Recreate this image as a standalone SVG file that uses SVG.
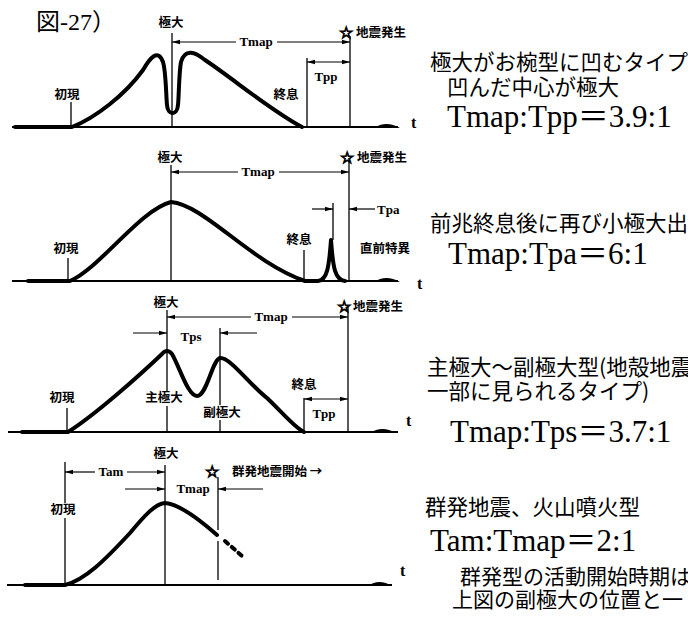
<svg xmlns="http://www.w3.org/2000/svg" width="688" height="620" viewBox="0 0 688 620">
<style>
.curve{fill:none;stroke:#000;stroke-width:4;stroke-linecap:round;stroke-linejoin:round}
.base{stroke:#000;stroke-width:2;fill:none}
.vl{stroke:#000;stroke-width:1.3;fill:none}
.dim{stroke:#000;stroke-width:1.2;fill:none}
.blob{fill:#000}
.lbl{font-family:"Noto Sans CJK JP","Noto Sans CJK SC",sans-serif;font-weight:700;font-size:12.5px;fill:#000}
.star{font-family:"DejaVu Sans","Noto Sans CJK JP",sans-serif;font-size:16px;fill:#000;stroke:#000;stroke-width:1.1}
.tl{font-family:"Liberation Serif","Noto Sans CJK JP",serif;font-weight:700;font-size:13px;fill:#000}
.tt{font-family:"Liberation Serif",serif;font-weight:700;font-size:16px;fill:#000}
.jp{font-family:"Noto Sans CJK JP","Noto Sans CJK SC",sans-serif;font-size:21.5px;fill:#000}
.ratio{font-family:"Liberation Serif","Noto Sans CJK JP",serif;font-size:31px;fill:#000}
.title{font-family:"Liberation Serif","Noto Sans CJK JP",serif;font-size:24px;fill:#000}
</style>
<defs>
<marker id="ah" viewBox="0 0 8 6" refX="8" refY="3" markerWidth="8" markerHeight="6" markerUnits="userSpaceOnUse" orient="auto-start-reverse"><path d="M0,0.8 L8,3 L0,5.2z" fill="#000"/></marker>
</defs>
<rect width="688" height="620" fill="#fff"/>
<text class="title" x="36" y="30">図-27）</text>

<!-- Panel 1 -->
<g id="panel1">
<line class="base" x1="12" y1="127" x2="398" y2="127"/>
<path class="blob" d="M374,128 Q386,120 400,128 z"/>
<line class="vl" x1="172" y1="33" x2="172" y2="127"/>
<line class="vl" x1="71" y1="102" x2="71" y2="127"/>
<line class="vl" x1="307" y1="58" x2="307" y2="127"/>
<line class="vl" x1="350" y1="36" x2="350" y2="127"/>
<path class="curve" d="M15,127 L72,127 C95,118 125,95 143,70 C150,58 158,48 163,62 C166,72 166,95 167,105 C168,116 177,116 178,105 C179,95 179,72 181,62 C185,48 195,52 205,60 C235,80 270,110 302,127"/>
<text class="lbl" x="171" y="27" text-anchor="middle">極大</text>
<text class="lbl" x="67" y="99" text-anchor="middle">初現</text>
<text class="lbl" x="286" y="99" text-anchor="middle">終息</text>
<text class="star" x="339" y="38">☆</text>
<text class="lbl" x="356" y="37">地震発生</text>
<text class="tl" x="256" y="46" text-anchor="middle">Tmap</text>
<text class="tl" x="326" y="81" text-anchor="middle">Tpp</text>
<text class="tt" x="411" y="128">t</text>
<text class="jp" x="430" y="70">極大がお椀型に凹むタイプ</text>
<text class="jp" x="447" y="95">凹んだ中心が極大</text>
<text class="ratio" x="447" y="127">Tmap:Tpp＝3.9:1</text>
</g>

<!-- Panel 2 -->
<g id="panel2">
<line class="base" x1="12" y1="281" x2="398" y2="281"/>
<path class="blob" d="M374,282 Q386,274 400,282 z"/>
<line class="vl" x1="171" y1="165" x2="171" y2="281"/>
<line class="vl" x1="68" y1="258" x2="68" y2="281"/>
<line class="vl" x1="304" y1="250" x2="304" y2="281"/>
<line class="vl" x1="333" y1="203" x2="333" y2="240"/>
<line class="vl" x1="349" y1="158" x2="349" y2="281"/>
<path class="curve" d="M28,281 L70,281 C100,268 140,210 171,202 C205,205 250,262 305,281 L318,281 C327,280 329,268 331,240 C333,268 335,280 345,281"/>
<text class="lbl" x="170" y="162" text-anchor="middle">極大</text>
<text class="lbl" x="66" y="253" text-anchor="middle">初現</text>
<text class="lbl" x="299" y="244" text-anchor="middle">終息</text>
<text class="star" x="340" y="163">☆</text>
<text class="lbl" x="357" y="162">地震発生</text>
<text class="lbl" x="360" y="253">直前特異</text>
<text class="tl" x="258" y="176" text-anchor="middle">Tmap</text>
<text class="tl" x="377" y="214">Tpa</text>
<text class="tt" x="417" y="289">t</text>
<text class="jp" x="430" y="231">前兆終息後に再び小極大出</text>
<text class="ratio" x="448" y="264">Tmap:Tpa＝6:1</text>
</g>

<!-- Panel 3 -->
<g id="panel3">
<line class="base" x1="8" y1="432" x2="398" y2="432"/>
<path class="blob" d="M370,433 Q382,425 396,433 z"/>
<line class="vl" x1="167" y1="310" x2="167" y2="391"/>
<line class="vl" x1="167" y1="406" x2="167" y2="432"/>
<line class="vl" x1="220" y1="328" x2="220" y2="405"/>
<line class="vl" x1="220" y1="420" x2="220" y2="432"/>
<line class="vl" x1="67" y1="408" x2="67" y2="432"/>
<line class="vl" x1="304" y1="398" x2="304" y2="432"/>
<line class="vl" x1="348" y1="306" x2="348" y2="432"/>
<path class="curve" d="M22,432 L68,432 C95,415 140,375 162,354 Q167,348 172,354 C180,368 188,396 197,396 C207,396 212,360 220,358 C230,357 250,385 267,398 C282,412 295,428 304,432"/>
<text class="lbl" x="166" y="307" text-anchor="middle">極大</text>
<text class="star" x="337" y="312">☆</text>
<text class="lbl" x="353" y="311">地震発生</text>
<text class="lbl" x="62" y="402" text-anchor="middle">初現</text>
<text class="lbl" x="164" y="402" text-anchor="middle">主極大</text>
<text class="lbl" x="222" y="417" text-anchor="middle">副極大</text>
<text class="lbl" x="304" y="389" text-anchor="middle">終息</text>
<text class="tl" x="271" y="321" text-anchor="middle">Tmap</text>
<text class="tl" x="191" y="341" text-anchor="middle">Tps</text>
<text class="tl" x="324" y="418" text-anchor="middle">Tpp</text>
<text class="tt" x="406" y="426">t</text>
<text class="jp" x="427" y="375">主極大～副極大型(地殻地震</text>
<text class="jp" x="427" y="399">一部に見られるタイプ)</text>
<text class="ratio" x="450" y="442">Tmap:Tps＝3.7:1</text>
</g>

<!-- Panel 4 -->
<g id="panel4">
<line class="base" x1="7" y1="585" x2="392" y2="585"/>
<path class="blob" d="M368,586 Q379,578 392,586 z"/>
<line class="vl" x1="65" y1="462" x2="65" y2="503"/>
<line class="vl" x1="65" y1="518" x2="65" y2="585"/>
<line class="vl" x1="165" y1="465" x2="165" y2="585"/>
<line class="vl" x1="218" y1="477" x2="218" y2="530"/>
<line class="vl" x1="218" y1="541" x2="218" y2="580"/>
<path class="curve" d="M25,585 L65,585 C85,580 105,560 130,533 C145,515 155,504 165,503 C180,504 200,520 217,535"/>
<path class="curve" d="M225,541 L242,556" stroke-dasharray="4 5"/>
<text class="lbl" x="166" y="458" text-anchor="middle">極大</text>
<text class="lbl" x="63" y="514" text-anchor="middle">初現</text>
<text class="star" x="205" y="477">☆</text>
<text class="lbl" x="232" y="476">群発地震開始 →</text>
<text class="tl" x="111" y="476" text-anchor="middle">Tam</text>
<text class="tl" x="193" y="493" text-anchor="middle">Tmap</text>
<text class="tt" x="400" y="576">t</text>
<text class="jp" x="425" y="515">群発地震、火山噴火型</text>
<text class="ratio" x="430" y="551">Tam:Tmap＝2:1</text>
<text class="jp" x="460" y="584" style="font-size:21px">群発型の活動開始時期は</text>
<text class="jp" x="452" y="607" style="font-size:21px">上図の副極大の位置と一</text>
</g>

<!-- Connectors: dimension lines -->
<g id="connectors">
<line class="dim" x1="172" y1="42" x2="236" y2="42" marker-start="url(#ah)"/>
<line class="dim" x1="277" y1="42" x2="350" y2="42" marker-end="url(#ah)"/>
<line class="dim" x1="307" y1="62" x2="350" y2="62" marker-start="url(#ah)" marker-end="url(#ah)"/>
<line class="dim" x1="171" y1="172" x2="238" y2="172" marker-start="url(#ah)"/>
<line class="dim" x1="279" y1="172" x2="349" y2="172" marker-end="url(#ah)"/>
<line class="dim" x1="312" y1="209" x2="333" y2="209" marker-end="url(#ah)"/>
<line class="dim" x1="375" y1="209" x2="349" y2="209" marker-end="url(#ah)"/>
<line class="dim" x1="167" y1="317" x2="251" y2="317" marker-start="url(#ah)"/>
<line class="dim" x1="292" y1="317" x2="348" y2="317" marker-end="url(#ah)"/>
<line class="dim" x1="133" y1="333" x2="167" y2="333" marker-end="url(#ah)"/>
<line class="dim" x1="257" y1="333" x2="220" y2="333" marker-end="url(#ah)"/>
<line class="dim" x1="304" y1="399" x2="348" y2="399" marker-start="url(#ah)" marker-end="url(#ah)"/>
<line class="dim" x1="65" y1="472" x2="95" y2="472" marker-start="url(#ah)"/>
<line class="dim" x1="127" y1="472" x2="165" y2="472" marker-end="url(#ah)"/>
<line class="dim" x1="125" y1="489" x2="165" y2="489" marker-end="url(#ah)"/>
<line class="dim" x1="263" y1="489" x2="218" y2="489" marker-end="url(#ah)"/>
</g>
</svg>
